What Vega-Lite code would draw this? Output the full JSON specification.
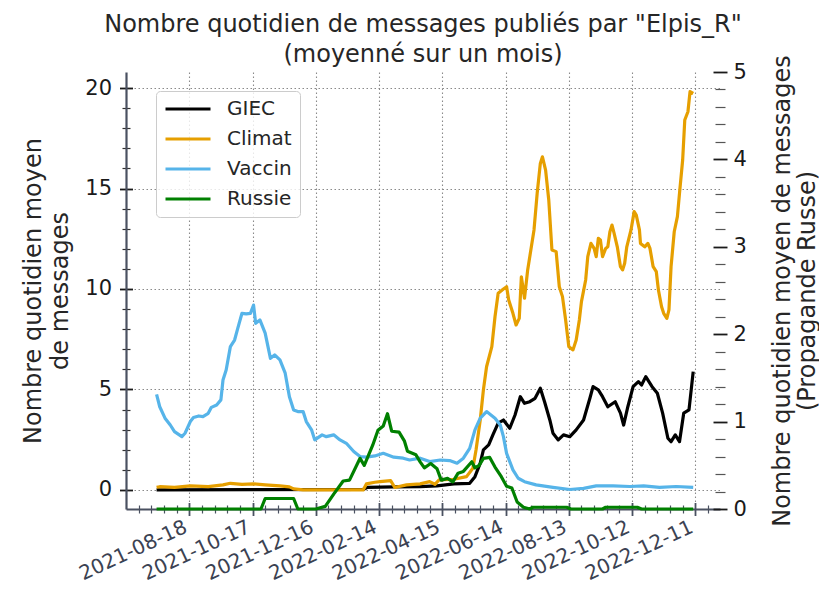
{
  "$schema": "https://vega.github.io/schema/vega-lite/v6.json",
  "width": 594,
  "height": 437,
  "autosize": "none",
  "padding": {"left": 126, "top": 72, "right": 99, "bottom": 81},
  "background": "white",
  "config": {"view": {"stroke": null}, "font": "DejaVu Sans"},
  "title": {
    "text": ["Nombre quotidien de messages publiés par \"Elpis_R\"", "(moyenné sur un mois)"],
    "fontSize": 24,
    "fontWeight": "normal",
    "color": "#262626",
    "anchor": "middle",
    "lineHeight": 30,
    "baseline": "bottom",
    "offset": 6,
    "dy": 42
  },
  "datasets": {
    "main": [
      {"d": "2021-07-18", "s": "GIEC", "v": 0},
      {"d": "2022-01-30", "s": "GIEC", "v": 0.02},
      {"d": "2022-02-03", "s": "GIEC", "v": 0.13},
      {"d": "2022-02-28", "s": "GIEC", "v": 0.15},
      {"d": "2022-03-25", "s": "GIEC", "v": 0.16},
      {"d": "2022-04-10", "s": "GIEC", "v": 0.2},
      {"d": "2022-04-26", "s": "GIEC", "v": 0.3},
      {"d": "2022-05-11", "s": "GIEC", "v": 0.33},
      {"d": "2022-05-16", "s": "GIEC", "v": 0.66},
      {"d": "2022-05-21", "s": "GIEC", "v": 1.33},
      {"d": "2022-05-24", "s": "GIEC", "v": 1.99},
      {"d": "2022-05-29", "s": "GIEC", "v": 2.24},
      {"d": "2022-06-02", "s": "GIEC", "v": 2.74},
      {"d": "2022-06-07", "s": "GIEC", "v": 3.32},
      {"d": "2022-06-12", "s": "GIEC", "v": 3.48},
      {"d": "2022-06-18", "s": "GIEC", "v": 3.07},
      {"d": "2022-06-23", "s": "GIEC", "v": 3.73},
      {"d": "2022-06-28", "s": "GIEC", "v": 4.64},
      {"d": "2022-07-02", "s": "GIEC", "v": 4.31},
      {"d": "2022-07-07", "s": "GIEC", "v": 4.39},
      {"d": "2022-07-12", "s": "GIEC", "v": 4.56},
      {"d": "2022-07-17", "s": "GIEC", "v": 5.06},
      {"d": "2022-07-21", "s": "GIEC", "v": 4.39},
      {"d": "2022-07-26", "s": "GIEC", "v": 3.48},
      {"d": "2022-07-29", "s": "GIEC", "v": 2.82},
      {"d": "2022-08-03", "s": "GIEC", "v": 2.49},
      {"d": "2022-08-08", "s": "GIEC", "v": 2.74},
      {"d": "2022-08-14", "s": "GIEC", "v": 2.65},
      {"d": "2022-08-20", "s": "GIEC", "v": 2.99},
      {"d": "2022-08-27", "s": "GIEC", "v": 3.48},
      {"d": "2022-09-02", "s": "GIEC", "v": 4.56},
      {"d": "2022-09-05", "s": "GIEC", "v": 5.14},
      {"d": "2022-09-10", "s": "GIEC", "v": 4.98},
      {"d": "2022-09-14", "s": "GIEC", "v": 4.64},
      {"d": "2022-09-19", "s": "GIEC", "v": 4.14},
      {"d": "2022-09-26", "s": "GIEC", "v": 4.39},
      {"d": "2022-10-01", "s": "GIEC", "v": 3.82},
      {"d": "2022-10-04", "s": "GIEC", "v": 3.23},
      {"d": "2022-10-08", "s": "GIEC", "v": 4.14},
      {"d": "2022-10-13", "s": "GIEC", "v": 5.14},
      {"d": "2022-10-18", "s": "GIEC", "v": 5.39},
      {"d": "2022-10-21", "s": "GIEC", "v": 5.22},
      {"d": "2022-10-25", "s": "GIEC", "v": 5.64},
      {"d": "2022-10-31", "s": "GIEC", "v": 5.14},
      {"d": "2022-11-05", "s": "GIEC", "v": 4.81},
      {"d": "2022-11-10", "s": "GIEC", "v": 3.82},
      {"d": "2022-11-15", "s": "GIEC", "v": 2.57},
      {"d": "2022-11-18", "s": "GIEC", "v": 2.4},
      {"d": "2022-11-22", "s": "GIEC", "v": 2.74},
      {"d": "2022-11-26", "s": "GIEC", "v": 2.4},
      {"d": "2022-11-30", "s": "GIEC", "v": 3.82},
      {"d": "2022-12-05", "s": "GIEC", "v": 3.98},
      {"d": "2022-12-09", "s": "GIEC", "v": 5.89},

      {"d": "2021-07-18", "s": "Climat", "v": 0.13},
      {"d": "2021-07-21", "s": "Climat", "v": 0.16},
      {"d": "2021-08-04", "s": "Climat", "v": 0.13},
      {"d": "2021-08-19", "s": "Climat", "v": 0.2},
      {"d": "2021-09-05", "s": "Climat", "v": 0.16},
      {"d": "2021-09-19", "s": "Climat", "v": 0.25},
      {"d": "2021-09-26", "s": "Climat", "v": 0.33},
      {"d": "2021-10-07", "s": "Climat", "v": 0.28},
      {"d": "2021-10-18", "s": "Climat", "v": 0.3},
      {"d": "2021-10-29", "s": "Climat", "v": 0.25},
      {"d": "2021-11-12", "s": "Climat", "v": 0.2},
      {"d": "2021-11-21", "s": "Climat", "v": 0.15},
      {"d": "2021-11-25", "s": "Climat", "v": 0.05},
      {"d": "2021-12-04", "s": "Climat", "v": 0},
      {"d": "2022-01-30", "s": "Climat", "v": 0},
      {"d": "2022-02-02", "s": "Climat", "v": 0.3},
      {"d": "2022-02-10", "s": "Climat", "v": 0.38},
      {"d": "2022-02-15", "s": "Climat", "v": 0.41},
      {"d": "2022-02-25", "s": "Climat", "v": 0.46},
      {"d": "2022-03-01", "s": "Climat", "v": 0.12},
      {"d": "2022-03-12", "s": "Climat", "v": 0.25},
      {"d": "2022-03-25", "s": "Climat", "v": 0.3},
      {"d": "2022-04-03", "s": "Climat", "v": 0.41},
      {"d": "2022-04-08", "s": "Climat", "v": 0.28},
      {"d": "2022-04-12", "s": "Climat", "v": 0.5},
      {"d": "2022-04-26", "s": "Climat", "v": 0.53},
      {"d": "2022-05-08", "s": "Climat", "v": 0.66},
      {"d": "2022-05-14", "s": "Climat", "v": 1.08},
      {"d": "2022-05-17", "s": "Climat", "v": 1.99},
      {"d": "2022-05-21", "s": "Climat", "v": 3.48},
      {"d": "2022-05-24", "s": "Climat", "v": 4.98},
      {"d": "2022-05-27", "s": "Climat", "v": 6.13},
      {"d": "2022-06-01", "s": "Climat", "v": 7.13},
      {"d": "2022-06-04", "s": "Climat", "v": 8.62},
      {"d": "2022-06-07", "s": "Climat", "v": 9.79},
      {"d": "2022-06-12", "s": "Climat", "v": 10.0},
      {"d": "2022-06-15", "s": "Climat", "v": 10.11},
      {"d": "2022-06-17", "s": "Climat", "v": 9.45},
      {"d": "2022-06-21", "s": "Climat", "v": 8.79},
      {"d": "2022-06-24", "s": "Climat", "v": 8.21},
      {"d": "2022-06-27", "s": "Climat", "v": 8.54},
      {"d": "2022-06-29", "s": "Climat", "v": 10.61},
      {"d": "2022-07-02", "s": "Climat", "v": 9.54},
      {"d": "2022-07-05", "s": "Climat", "v": 10.95},
      {"d": "2022-07-08", "s": "Climat", "v": 11.94},
      {"d": "2022-07-11", "s": "Climat", "v": 12.94},
      {"d": "2022-07-14", "s": "Climat", "v": 14.76},
      {"d": "2022-07-17", "s": "Climat", "v": 16.25},
      {"d": "2022-07-19", "s": "Climat", "v": 16.58},
      {"d": "2022-07-22", "s": "Climat", "v": 15.92},
      {"d": "2022-07-25", "s": "Climat", "v": 14.43},
      {"d": "2022-07-28", "s": "Climat", "v": 11.94},
      {"d": "2022-08-01", "s": "Climat", "v": 11.86},
      {"d": "2022-08-04", "s": "Climat", "v": 10.11},
      {"d": "2022-08-07", "s": "Climat", "v": 9.62},
      {"d": "2022-08-10", "s": "Climat", "v": 8.46},
      {"d": "2022-08-13", "s": "Climat", "v": 7.13},
      {"d": "2022-08-17", "s": "Climat", "v": 6.97},
      {"d": "2022-08-20", "s": "Climat", "v": 7.46},
      {"d": "2022-08-23", "s": "Climat", "v": 8.46},
      {"d": "2022-08-25", "s": "Climat", "v": 9.37},
      {"d": "2022-08-29", "s": "Climat", "v": 10.45},
      {"d": "2022-08-31", "s": "Climat", "v": 11.61},
      {"d": "2022-09-03", "s": "Climat", "v": 12.27},
      {"d": "2022-09-06", "s": "Climat", "v": 12.02},
      {"d": "2022-09-08", "s": "Climat", "v": 11.61},
      {"d": "2022-09-10", "s": "Climat", "v": 12.52},
      {"d": "2022-09-12", "s": "Climat", "v": 12.44},
      {"d": "2022-09-14", "s": "Climat", "v": 11.61},
      {"d": "2022-09-17", "s": "Climat", "v": 12.02},
      {"d": "2022-09-19", "s": "Climat", "v": 12.1},
      {"d": "2022-09-21", "s": "Climat", "v": 12.85},
      {"d": "2022-09-23", "s": "Climat", "v": 13.18},
      {"d": "2022-09-25", "s": "Climat", "v": 12.77},
      {"d": "2022-09-28", "s": "Climat", "v": 12.1},
      {"d": "2022-10-01", "s": "Climat", "v": 11.11},
      {"d": "2022-10-03", "s": "Climat", "v": 10.95},
      {"d": "2022-10-05", "s": "Climat", "v": 11.28},
      {"d": "2022-10-07", "s": "Climat", "v": 12.1},
      {"d": "2022-10-11", "s": "Climat", "v": 12.94},
      {"d": "2022-10-14", "s": "Climat", "v": 13.85},
      {"d": "2022-10-16", "s": "Climat", "v": 13.68},
      {"d": "2022-10-19", "s": "Climat", "v": 12.94},
      {"d": "2022-10-20", "s": "Climat", "v": 12.27},
      {"d": "2022-10-24", "s": "Climat", "v": 12.1},
      {"d": "2022-10-27", "s": "Climat", "v": 12.27},
      {"d": "2022-10-29", "s": "Climat", "v": 12.02},
      {"d": "2022-11-01", "s": "Climat", "v": 11.11},
      {"d": "2022-11-04", "s": "Climat", "v": 10.86},
      {"d": "2022-11-06", "s": "Climat", "v": 9.95},
      {"d": "2022-11-09", "s": "Climat", "v": 9.12},
      {"d": "2022-11-11", "s": "Climat", "v": 8.79},
      {"d": "2022-11-14", "s": "Climat", "v": 8.54},
      {"d": "2022-11-16", "s": "Climat", "v": 8.96},
      {"d": "2022-11-18", "s": "Climat", "v": 11.11},
      {"d": "2022-11-21", "s": "Climat", "v": 12.85},
      {"d": "2022-11-24", "s": "Climat", "v": 13.6},
      {"d": "2022-11-26", "s": "Climat", "v": 14.76},
      {"d": "2022-11-29", "s": "Climat", "v": 16.42},
      {"d": "2022-12-01", "s": "Climat", "v": 18.41},
      {"d": "2022-12-04", "s": "Climat", "v": 18.82},
      {"d": "2022-12-06", "s": "Climat", "v": 19.82},
      {"d": "2022-12-09", "s": "Climat", "v": 19.73},

      {"d": "2021-07-18", "s": "Vaccin", "v": 4.76},
      {"d": "2021-07-21", "s": "Vaccin", "v": 4.14},
      {"d": "2021-07-26", "s": "Vaccin", "v": 3.57},
      {"d": "2021-07-31", "s": "Vaccin", "v": 3.23},
      {"d": "2021-08-04", "s": "Vaccin", "v": 2.9},
      {"d": "2021-08-11", "s": "Vaccin", "v": 2.65},
      {"d": "2021-08-14", "s": "Vaccin", "v": 2.82},
      {"d": "2021-08-19", "s": "Vaccin", "v": 3.4},
      {"d": "2021-08-22", "s": "Vaccin", "v": 3.6},
      {"d": "2021-08-27", "s": "Vaccin", "v": 3.68},
      {"d": "2021-08-31", "s": "Vaccin", "v": 3.65},
      {"d": "2021-09-05", "s": "Vaccin", "v": 3.81},
      {"d": "2021-09-08", "s": "Vaccin", "v": 4.11},
      {"d": "2021-09-13", "s": "Vaccin", "v": 4.23},
      {"d": "2021-09-17", "s": "Vaccin", "v": 4.48},
      {"d": "2021-09-19", "s": "Vaccin", "v": 5.47},
      {"d": "2021-09-22", "s": "Vaccin", "v": 5.97},
      {"d": "2021-09-26", "s": "Vaccin", "v": 7.13},
      {"d": "2021-09-30", "s": "Vaccin", "v": 7.46},
      {"d": "2021-10-03", "s": "Vaccin", "v": 8.04},
      {"d": "2021-10-07", "s": "Vaccin", "v": 8.79},
      {"d": "2021-10-11", "s": "Vaccin", "v": 8.76},
      {"d": "2021-10-15", "s": "Vaccin", "v": 8.79},
      {"d": "2021-10-18", "s": "Vaccin", "v": 9.2},
      {"d": "2021-10-20", "s": "Vaccin", "v": 8.29},
      {"d": "2021-10-24", "s": "Vaccin", "v": 8.46},
      {"d": "2021-10-29", "s": "Vaccin", "v": 7.8},
      {"d": "2021-11-03", "s": "Vaccin", "v": 6.55},
      {"d": "2021-11-07", "s": "Vaccin", "v": 6.72},
      {"d": "2021-11-12", "s": "Vaccin", "v": 6.47},
      {"d": "2021-11-17", "s": "Vaccin", "v": 5.81},
      {"d": "2021-11-21", "s": "Vaccin", "v": 4.64},
      {"d": "2021-11-25", "s": "Vaccin", "v": 3.98},
      {"d": "2021-11-29", "s": "Vaccin", "v": 3.9},
      {"d": "2021-12-04", "s": "Vaccin", "v": 3.9},
      {"d": "2021-12-07", "s": "Vaccin", "v": 3.4},
      {"d": "2021-12-12", "s": "Vaccin", "v": 2.99},
      {"d": "2021-12-15", "s": "Vaccin", "v": 2.49},
      {"d": "2021-12-22", "s": "Vaccin", "v": 2.74},
      {"d": "2021-12-26", "s": "Vaccin", "v": 2.65},
      {"d": "2022-01-02", "s": "Vaccin", "v": 2.74},
      {"d": "2022-01-08", "s": "Vaccin", "v": 2.49},
      {"d": "2022-01-14", "s": "Vaccin", "v": 2.32},
      {"d": "2022-01-21", "s": "Vaccin", "v": 1.91},
      {"d": "2022-01-27", "s": "Vaccin", "v": 1.66},
      {"d": "2022-02-02", "s": "Vaccin", "v": 1.63},
      {"d": "2022-02-10", "s": "Vaccin", "v": 1.69},
      {"d": "2022-02-18", "s": "Vaccin", "v": 1.82},
      {"d": "2022-02-28", "s": "Vaccin", "v": 1.63},
      {"d": "2022-03-09", "s": "Vaccin", "v": 1.58},
      {"d": "2022-03-15", "s": "Vaccin", "v": 1.49},
      {"d": "2022-03-25", "s": "Vaccin", "v": 1.58},
      {"d": "2022-04-03", "s": "Vaccin", "v": 1.41},
      {"d": "2022-04-13", "s": "Vaccin", "v": 1.49},
      {"d": "2022-04-22", "s": "Vaccin", "v": 1.46},
      {"d": "2022-04-29", "s": "Vaccin", "v": 1.33},
      {"d": "2022-05-05", "s": "Vaccin", "v": 1.58},
      {"d": "2022-05-11", "s": "Vaccin", "v": 2.07},
      {"d": "2022-05-16", "s": "Vaccin", "v": 2.99},
      {"d": "2022-05-21", "s": "Vaccin", "v": 3.57},
      {"d": "2022-05-27", "s": "Vaccin", "v": 3.9},
      {"d": "2022-06-04", "s": "Vaccin", "v": 3.57},
      {"d": "2022-06-09", "s": "Vaccin", "v": 3.23},
      {"d": "2022-06-12", "s": "Vaccin", "v": 2.65},
      {"d": "2022-06-15", "s": "Vaccin", "v": 1.82},
      {"d": "2022-06-21", "s": "Vaccin", "v": 1.0},
      {"d": "2022-06-26", "s": "Vaccin", "v": 0.58},
      {"d": "2022-07-02", "s": "Vaccin", "v": 0.41},
      {"d": "2022-07-13", "s": "Vaccin", "v": 0.25},
      {"d": "2022-07-29", "s": "Vaccin", "v": 0.13},
      {"d": "2022-08-14", "s": "Vaccin", "v": 0.02},
      {"d": "2022-08-27", "s": "Vaccin", "v": 0.08},
      {"d": "2022-09-08", "s": "Vaccin", "v": 0.2},
      {"d": "2022-09-24", "s": "Vaccin", "v": 0.2},
      {"d": "2022-10-10", "s": "Vaccin", "v": 0.17},
      {"d": "2022-10-23", "s": "Vaccin", "v": 0.2},
      {"d": "2022-11-07", "s": "Vaccin", "v": 0.13},
      {"d": "2022-11-23", "s": "Vaccin", "v": 0.17},
      {"d": "2022-12-09", "s": "Vaccin", "v": 0.13}
    ],
    "russie": [
      {"d": "2021-07-18", "s": "Russie", "v": 0},
      {"d": "2021-10-25", "s": "Russie", "v": 0},
      {"d": "2021-10-29", "s": "Russie", "v": 0.12},
      {"d": "2021-11-25", "s": "Russie", "v": 0.12},
      {"d": "2021-11-29", "s": "Russie", "v": 0},
      {"d": "2021-12-16", "s": "Russie", "v": 0},
      {"d": "2021-12-25", "s": "Russie", "v": 0.03},
      {"d": "2022-01-02", "s": "Russie", "v": 0.17},
      {"d": "2022-01-11", "s": "Russie", "v": 0.32},
      {"d": "2022-01-17", "s": "Russie", "v": 0.33},
      {"d": "2022-01-27", "s": "Russie", "v": 0.58},
      {"d": "2022-01-31", "s": "Russie", "v": 0.5},
      {"d": "2022-02-08", "s": "Russie", "v": 0.73},
      {"d": "2022-02-13", "s": "Russie", "v": 0.9},
      {"d": "2022-02-18", "s": "Russie", "v": 0.95},
      {"d": "2022-02-22", "s": "Russie", "v": 1.09},
      {"d": "2022-02-26", "s": "Russie", "v": 0.89},
      {"d": "2022-03-05", "s": "Russie", "v": 0.88},
      {"d": "2022-03-10", "s": "Russie", "v": 0.78},
      {"d": "2022-03-13", "s": "Russie", "v": 0.66},
      {"d": "2022-03-21", "s": "Russie", "v": 0.62},
      {"d": "2022-03-25", "s": "Russie", "v": 0.54},
      {"d": "2022-03-29", "s": "Russie", "v": 0.47},
      {"d": "2022-04-04", "s": "Russie", "v": 0.52},
      {"d": "2022-04-10", "s": "Russie", "v": 0.46},
      {"d": "2022-04-14", "s": "Russie", "v": 0.33},
      {"d": "2022-04-20", "s": "Russie", "v": 0.35},
      {"d": "2022-04-25", "s": "Russie", "v": 0.31},
      {"d": "2022-04-30", "s": "Russie", "v": 0.41},
      {"d": "2022-05-05", "s": "Russie", "v": 0.43},
      {"d": "2022-05-13", "s": "Russie", "v": 0.54},
      {"d": "2022-05-16", "s": "Russie", "v": 0.47},
      {"d": "2022-05-20", "s": "Russie", "v": 0.5},
      {"d": "2022-05-24", "s": "Russie", "v": 0.58},
      {"d": "2022-05-30", "s": "Russie", "v": 0.59},
      {"d": "2022-06-04", "s": "Russie", "v": 0.48},
      {"d": "2022-06-10", "s": "Russie", "v": 0.37},
      {"d": "2022-06-15", "s": "Russie", "v": 0.26},
      {"d": "2022-06-20", "s": "Russie", "v": 0.24},
      {"d": "2022-06-25", "s": "Russie", "v": 0.08},
      {"d": "2022-07-01", "s": "Russie", "v": 0.02},
      {"d": "2022-07-07", "s": "Russie", "v": 0},
      {"d": "2022-07-10", "s": "Russie", "v": 0.02},
      {"d": "2022-08-11", "s": "Russie", "v": 0.02},
      {"d": "2022-08-15", "s": "Russie", "v": 0},
      {"d": "2022-09-14", "s": "Russie", "v": 0},
      {"d": "2022-09-17", "s": "Russie", "v": 0.02},
      {"d": "2022-10-17", "s": "Russie", "v": 0.02},
      {"d": "2022-10-21", "s": "Russie", "v": 0},
      {"d": "2022-12-09", "s": "Russie", "v": 0}
    ]
  },
  "layer": [
    {
      "data": {"name": "main"},
      "mark": {"type": "line", "strokeWidth": 3.2, "strokeJoin": "round"},
      "encoding": {
        "x": {
          "field": "d", "type": "temporal",
          "scale": {"type": "utc", "domain": [{"year": 2021, "month": 6, "date": 19, "utc": true}, {"year": 2023, "month": 1, "date": 3, "hours": 10, "utc": true}]},
          "axis": {
            "orient": "bottom",
            "values": [
              {"year": 2021, "month": 8, "date": 18, "utc": true},
              {"year": 2021, "month": 10, "date": 17, "utc": true},
              {"year": 2021, "month": 12, "date": 16, "utc": true},
              {"year": 2022, "month": 2, "date": 14, "utc": true},
              {"year": 2022, "month": 4, "date": 15, "utc": true},
              {"year": 2022, "month": 6, "date": 14, "utc": true},
              {"year": 2022, "month": 8, "date": 13, "utc": true},
              {"year": 2022, "month": 10, "date": 12, "utc": true},
              {"year": 2022, "month": 12, "date": 11, "utc": true}
            ],
            "grid": true, "gridColor": "#8a8a8a", "gridDash": [1.5, 2.5], "gridWidth": 1.1,
            "ticks": false, "labels": false, "domain": false, "title": null
          }
        },
        "y": {
          "field": "v", "type": "quantitative",
          "scale": {"domain": [-0.95, 20.8], "nice": false, "zero": false},
          "axis": {
            "orient": "left", "values": [0, 5, 10, 15, 20],
            "grid": true, "gridColor": "#8a8a8a", "gridDash": [1.5, 2.5], "gridWidth": 1.1,
            "ticks": false, "labels": false, "domain": false, "title": null
          }
        },
        "color": {
          "field": "s", "type": "nominal",
          "scale": {"domain": ["GIEC", "Climat", "Vaccin", "Russie"], "range": ["#000000", "#E69F00", "#56B4E9", "#008000"]},
          "legend": {
            "title": null, "orient": "none", "legendX": 30, "legendY": 19,
            "symbolType": "stroke", "symbolSize": 2025, "symbolStrokeWidth": 3,
            "clipHeight": 20, "rowPadding": 10, "padding": 8, "labelOffset": 15,
            "labelFontSize": 20, "labelColor": "#262626",
            "fillColor": "rgba(255,255,255,0.8)", "strokeColor": "#cccccc", "cornerRadius": 4
          }
        }
      }
    },
    {
      "data": {"name": "main"},
      "mark": {"type": "point", "opacity": 0},
      "encoding": {
        "x": {
          "field": "d", "type": "temporal",
          "axis": {
            "orient": "bottom",
            "values": [
              {"year": 2021, "month": 8, "date": 18, "utc": true},
              {"year": 2021, "month": 10, "date": 17, "utc": true},
              {"year": 2021, "month": 12, "date": 16, "utc": true},
              {"year": 2022, "month": 2, "date": 14, "utc": true},
              {"year": 2022, "month": 4, "date": 15, "utc": true},
              {"year": 2022, "month": 6, "date": 14, "utc": true},
              {"year": 2022, "month": 8, "date": 13, "utc": true},
              {"year": 2022, "month": 10, "date": 12, "utc": true},
              {"year": 2022, "month": 12, "date": 11, "utc": true}
            ],
            "labelExpr": "utcFormat(datum.value, '%Y-%m-%d')",
            "offset": -6.5, "tickSize": 13, "tickColor": "#4a5161", "tickWidth": 1.8,
            "domain": false, "grid": false, "title": null,
            "labelAngle": -25, "labelAlign": "right", "labelBaseline": "top",
            "labelFontSize": 20, "labelColor": "#3b4252", "labelPadding": 1, "labelOffset": -8,
            "labelOverlap": false, "labelFlush": false, "labelBound": false
          }
        },
        "y": {
          "field": "v", "type": "quantitative",
          "scale": {"domain": [-0.95, 20.8], "nice": false, "zero": false},
          "axis": {
            "orient": "left", "values": [0, 5, 10, 15, 20],
            "offset": -6.5, "tickSize": 13, "tickColor": "#1a1a1a", "tickWidth": 1.8,
            "domain": false, "grid": false, "title": null,
            "labelFontSize": 21, "labelColor": "#1a1a1a", "labelPadding": 8
          }
        }
      }
    },
    {
      "data": {"name": "main"},
      "mark": {"type": "point", "opacity": 0},
      "encoding": {
        "x": {
          "field": "d", "type": "temporal",
          "axis": {
            "orient": "bottom",
            "values": [
              {"year": 2021, "month": 7, "date": 1, "utc": true},
              {"year": 2021, "month": 7, "date": 13, "utc": true},
              {"year": 2021, "month": 7, "date": 25, "utc": true},
              {"year": 2021, "month": 8, "date": 6, "utc": true},
              {"year": 2021, "month": 8, "date": 30, "utc": true},
              {"year": 2021, "month": 9, "date": 11, "utc": true},
              {"year": 2021, "month": 9, "date": 23, "utc": true},
              {"year": 2021, "month": 10, "date": 5, "utc": true},
              {"year": 2021, "month": 10, "date": 29, "utc": true},
              {"year": 2021, "month": 11, "date": 10, "utc": true},
              {"year": 2021, "month": 11, "date": 22, "utc": true},
              {"year": 2021, "month": 12, "date": 4, "utc": true},
              {"year": 2021, "month": 12, "date": 28, "utc": true},
              {"year": 2022, "month": 1, "date": 9, "utc": true},
              {"year": 2022, "month": 1, "date": 21, "utc": true},
              {"year": 2022, "month": 2, "date": 2, "utc": true},
              {"year": 2022, "month": 2, "date": 26, "utc": true},
              {"year": 2022, "month": 3, "date": 10, "utc": true},
              {"year": 2022, "month": 3, "date": 22, "utc": true},
              {"year": 2022, "month": 4, "date": 3, "utc": true},
              {"year": 2022, "month": 4, "date": 27, "utc": true},
              {"year": 2022, "month": 5, "date": 9, "utc": true},
              {"year": 2022, "month": 5, "date": 21, "utc": true},
              {"year": 2022, "month": 6, "date": 2, "utc": true},
              {"year": 2022, "month": 6, "date": 26, "utc": true},
              {"year": 2022, "month": 7, "date": 8, "utc": true},
              {"year": 2022, "month": 7, "date": 20, "utc": true},
              {"year": 2022, "month": 8, "date": 1, "utc": true},
              {"year": 2022, "month": 8, "date": 25, "utc": true},
              {"year": 2022, "month": 9, "date": 6, "utc": true},
              {"year": 2022, "month": 9, "date": 18, "utc": true},
              {"year": 2022, "month": 9, "date": 30, "utc": true},
              {"year": 2022, "month": 10, "date": 24, "utc": true},
              {"year": 2022, "month": 11, "date": 5, "utc": true},
              {"year": 2022, "month": 11, "date": 17, "utc": true},
              {"year": 2022, "month": 11, "date": 29, "utc": true},
              {"year": 2022, "month": 12, "date": 23, "utc": true}
            ],
            "offset": -4, "tickSize": 8, "tickColor": "#4a5161", "tickWidth": 1.2,
            "labels": false, "domain": false, "grid": false, "title": null
          }
        },
        "y": {
          "field": "v", "type": "quantitative",
          "scale": {"domain": [-0.95, 20.8], "nice": false, "zero": false},
          "axis": {
            "orient": "left", "values": [1, 2, 3, 4, 6, 7, 8, 9, 11, 12, 13, 14, 16, 17, 18, 19],
            "offset": -4, "tickSize": 8, "tickColor": "#333333", "tickWidth": 1.2,
            "labels": false, "domain": false, "grid": false, "title": null
          }
        }
      }
    },
    {
      "data": {"name": "main"},
      "mark": {"type": "point", "opacity": 0},
      "encoding": {
        "x": {
          "field": "d", "type": "temporal",
          "axis": {
            "orient": "bottom",
            "domain": true, "domainColor": "#4a5161", "domainWidth": 2.2,
            "ticks": false, "labels": false, "grid": false, "title": null
          }
        },
        "y": {
          "field": "v", "type": "quantitative",
          "scale": {"domain": [-0.95, 20.8], "nice": false, "zero": false},
          "axis": {
            "orient": "left",
            "domain": true, "domainColor": "#4a5161", "domainWidth": 2.2,
            "ticks": false, "labels": false, "grid": false,
            "title": ["Nombre quotidien moyen", "de messages"],
            "titleFontSize": 24, "titleFontWeight": "normal", "titleColor": "#262626",
            "titleAngle": -90, "titleAlign": "center", "titleBaseline": "middle",
            "titleLineHeight": 27, "titleX": -93, "titleY": 218.5
          }
        }
      }
    },
    {
      "data": {"name": "russie"},
      "mark": {"type": "line", "strokeWidth": 3.2, "strokeJoin": "round"},
      "encoding": {
        "x": {"field": "d", "type": "temporal", "axis": null},
        "y": {
          "field": "v", "type": "quantitative",
          "scale": {"domain": [0, 5], "nice": false, "zero": false},
          "axis": {
            "orient": "right", "values": [0, 1, 2, 3, 4, 5],
            "offset": -7, "tickSize": 14, "tickColor": "#1a1a1a", "tickWidth": 1.8,
            "domain": false, "grid": false,
            "labelFontSize": 21, "labelColor": "#1a1a1a", "labelPadding": 6,
            "title": ["Nombre quotidien moyen de messages", "(Propagande Russe)"],
            "titleFontSize": 24, "titleFontWeight": "normal", "titleColor": "#262626",
            "titleAngle": -90, "titleAlign": "center", "titleBaseline": "middle",
            "titleLineHeight": 25, "titleX": 69, "titleY": 218.5
          }
        },
        "color": {"field": "s", "type": "nominal"}
      }
    },
    {
      "data": {"name": "russie"},
      "mark": {"type": "point", "opacity": 0},
      "encoding": {
        "x": {"field": "d", "type": "temporal", "axis": null},
        "y": {
          "field": "v", "type": "quantitative",
          "scale": {"domain": [0, 5], "nice": false, "zero": false},
          "axis": {
            "orient": "right",
            "values": [0.2, 0.4, 0.6, 0.8, 1.2, 1.4, 1.6, 1.8, 2.2, 2.4, 2.6, 2.8, 3.2, 3.4, 3.6, 3.8, 4.2, 4.4, 4.6, 4.8],
            "offset": -5, "tickSize": 10, "tickColor": "#555555", "tickWidth": 1.2,
            "labels": false, "domain": false, "grid": false, "title": null
          }
        }
      }
    }
  ],
  "resolve": {
    "scale": {"y": "independent"},
    "axis": {"x": "independent", "y": "independent"}
  }
}
